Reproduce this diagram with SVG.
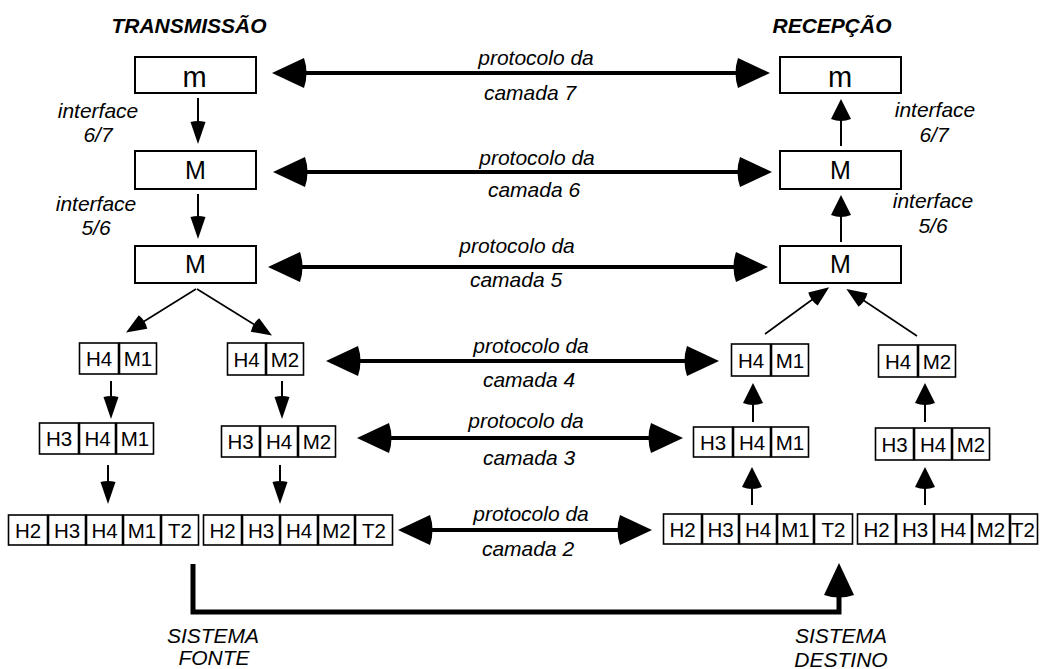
<svg xmlns="http://www.w3.org/2000/svg" width="1040" height="669" viewBox="0 0 1040 669">
  <style>
    .bg { fill: #ffffff; }
    .box { fill: #ffffff; stroke: #000000; stroke-width: 2; }
    .cell { fill: #ffffff; stroke: #000000; stroke-width: 1.6; }
    .t { font-family: "Liberation Sans", Arial, sans-serif; fill: #000000; text-anchor: middle; }
    .big { font-size: 25px; }
    .small-m { font-size: 29px; }
    .cellt { font-size: 20.5px; }
    .it { font-size: 21px; font-style: italic; }
    .head { font-size: 21px; font-style: italic; font-weight: bold; }
    .proto { fill: none; stroke: #000000; stroke-width: 4; marker-start: url(#hBig); marker-end: url(#hBig); }
    .down { fill: none; stroke: #000000; stroke-width: 2; marker-end: url(#hDown); }
    .up { fill: none; stroke: #000000; stroke-width: 2; marker-end: url(#hUp); }
    .diag { fill: none; stroke: #000000; stroke-width: 1.6; marker-end: url(#hMid); }
    .sys { fill: none; stroke: #000000; stroke-width: 5; marker-end: url(#hBig); }
  </style>
  <defs>
    <!-- arrowheads: back edge sits on the line end, tip extends forward -->
    <marker id="hBig" markerUnits="userSpaceOnUse" orient="auto-start-reverse" refX="0" refY="0" markerWidth="40" markerHeight="40" overflow="visible">
      <path d="M0,-15 Q-5,0 0,15 L32,0 Z" fill="#000000"/>
    </marker>
    <marker id="hDown" markerUnits="userSpaceOnUse" orient="auto" refX="0" refY="0" markerWidth="30" markerHeight="30" overflow="visible">
      <path d="M0,-7.5 Q-2,0 0,7.5 L22,0 Z" fill="#000000"/>
    </marker>
    <marker id="hUp" markerUnits="userSpaceOnUse" orient="auto" refX="0" refY="0" markerWidth="30" markerHeight="30" overflow="visible">
      <path d="M0,-10 Q-4,0 0,10 L20,0 Z" fill="#000000"/>
    </marker>
    <marker id="hMid" markerUnits="userSpaceOnUse" orient="auto" refX="0" refY="0" markerWidth="30" markerHeight="30" overflow="visible">
      <path d="M0,-8 Q-3,0 0,8 L20,0 Z" fill="#000000"/>
    </marker>
  </defs>

  <rect class="bg" x="0" y="0" width="1040" height="669"/>

  <!-- column headings -->
  <text class="t head" x="189" y="33">TRANSMISSÃO</text>
  <text class="t head" x="832" y="33">RECEPÇÃO</text>

  <!-- sending side, layers 7..5 -->
  <g id="tx-l7"><rect class="box" x="135" y="57" width="121" height="36"/><text class="t small-m" x="194.5" y="87">m</text></g>
  <g id="tx-l6"><rect class="box" x="135" y="151" width="121" height="38"/><text class="t big" x="195.5" y="179">M</text></g>
  <g id="tx-l5"><rect class="box" x="135" y="246" width="121" height="37"/><text class="t big" x="195.5" y="273">M</text></g>

  <!-- receiving side, layers 7..5 -->
  <g id="rx-l7"><rect class="box" x="780" y="57" width="121" height="36"/><text class="t small-m" x="840" y="87">m</text></g>
  <g id="rx-l6"><rect class="box" x="780" y="151" width="121" height="38"/><text class="t big" x="840.5" y="179">M</text></g>
  <g id="rx-l5"><rect class="box" x="780" y="246" width="121" height="37"/><text class="t big" x="840.5" y="273">M</text></g>

  <!-- interface labels -->
  <g id="if-tx">
    <text class="t it" x="98" y="118">interface</text>
    <text class="t it" x="98" y="142">6/7</text>
    <text class="t it" x="96" y="211">interface</text>
    <text class="t it" x="96" y="235">5/6</text>
  </g>
  <g id="if-rx">
    <text class="t it" x="935" y="117">interface</text>
    <text class="t it" x="934" y="142">6/7</text>
    <text class="t it" x="933" y="208">interface</text>
    <text class="t it" x="933" y="233">5/6</text>
  </g>

  <!-- sending side, layer 4 -->
  <g id="tx-l4a">
    <rect class="cell" x="79.5" y="343" width="39" height="31"/><text class="t cellt" x="99" y="366">H4</text>
    <rect class="cell" x="119.5" y="343" width="37" height="31"/><text class="t cellt" x="138" y="366">M1</text>
  </g>
  <g id="tx-l4b">
    <rect class="cell" x="227.5" y="343" width="38" height="32"/><text class="t cellt" x="246.5" y="367">H4</text>
    <rect class="cell" x="266.5" y="343" width="37" height="32"/><text class="t cellt" x="285" y="367">M2</text>
  </g>

  <!-- sending side, layer 3 -->
  <g id="tx-l3a">
    <rect class="cell" x="39.5" y="423" width="39" height="31"/><text class="t cellt" x="59" y="446">H3</text>
    <rect class="cell" x="79.5" y="423" width="36" height="31"/><text class="t cellt" x="97.5" y="446">H4</text>
    <rect class="cell" x="116.5" y="423" width="37" height="31"/><text class="t cellt" x="135" y="446">M1</text>
  </g>
  <g id="tx-l3b">
    <rect class="cell" x="221.5" y="426" width="38" height="31"/><text class="t cellt" x="240.5" y="449">H3</text>
    <rect class="cell" x="260.5" y="426" width="37" height="31"/><text class="t cellt" x="279" y="449">H4</text>
    <rect class="cell" x="298.5" y="426" width="37" height="31"/><text class="t cellt" x="317" y="449">M2</text>
  </g>

  <!-- sending side, layer 2 -->
  <g id="tx-l2a">
    <rect class="cell" x="8.5" y="515" width="39" height="30"/><text class="t cellt" x="28" y="538">H2</text>
    <rect class="cell" x="48.5" y="515" width="37" height="30"/><text class="t cellt" x="67" y="538">H3</text>
    <rect class="cell" x="86.5" y="515" width="36" height="30"/><text class="t cellt" x="104.5" y="538">H4</text>
    <rect class="cell" x="123.5" y="515" width="37" height="30"/><text class="t cellt" x="142" y="538">M1</text>
    <rect class="cell" x="161.5" y="515" width="37" height="30"/><text class="t cellt" x="180" y="538">T2</text>
  </g>
  <g id="tx-l2b">
    <rect class="cell" x="203.5" y="515" width="38" height="30"/><text class="t cellt" x="222.5" y="538">H2</text>
    <rect class="cell" x="242.5" y="515" width="37" height="30"/><text class="t cellt" x="261" y="538">H3</text>
    <rect class="cell" x="280.5" y="515" width="37" height="30"/><text class="t cellt" x="299" y="538">H4</text>
    <rect class="cell" x="318.5" y="515" width="36" height="30"/><text class="t cellt" x="336.5" y="538">M2</text>
    <rect class="cell" x="355.5" y="515" width="37" height="30"/><text class="t cellt" x="374" y="538">T2</text>
  </g>

  <!-- receiving side, layer 4 -->
  <g id="rx-l4a">
    <rect class="cell" x="731.5" y="344" width="39" height="32"/><text class="t cellt" x="751" y="368">H4</text>
    <rect class="cell" x="771.5" y="344" width="37" height="32"/><text class="t cellt" x="790" y="368">M1</text>
  </g>
  <g id="rx-l4b">
    <rect class="cell" x="878.5" y="345" width="39" height="32"/><text class="t cellt" x="898" y="369">H4</text>
    <rect class="cell" x="918.5" y="345" width="37" height="32"/><text class="t cellt" x="937" y="369">M2</text>
  </g>

  <!-- receiving side, layer 3 -->
  <g id="rx-l3a">
    <rect class="cell" x="693.5" y="427" width="39" height="30"/><text class="t cellt" x="713" y="450">H3</text>
    <rect class="cell" x="733.5" y="427" width="37" height="30"/><text class="t cellt" x="752" y="450">H4</text>
    <rect class="cell" x="771.5" y="427" width="37" height="30"/><text class="t cellt" x="790" y="450">M1</text>
  </g>
  <g id="rx-l3b">
    <rect class="cell" x="875.5" y="428" width="38" height="32"/><text class="t cellt" x="894.5" y="452">H3</text>
    <rect class="cell" x="914.5" y="428" width="37" height="32"/><text class="t cellt" x="933" y="452">H4</text>
    <rect class="cell" x="952.5" y="428" width="37" height="32"/><text class="t cellt" x="971" y="452">M2</text>
  </g>

  <!-- receiving side, layer 2 -->
  <g id="rx-l2a">
    <rect class="cell" x="663.5" y="514" width="38" height="30"/><text class="t cellt" x="682.5" y="537">H2</text>
    <rect class="cell" x="702.5" y="514" width="36" height="30"/><text class="t cellt" x="720.5" y="537">H3</text>
    <rect class="cell" x="739.5" y="514" width="37" height="30"/><text class="t cellt" x="758" y="537">H4</text>
    <rect class="cell" x="777.5" y="514" width="36" height="30"/><text class="t cellt" x="795.5" y="537">M1</text>
    <rect class="cell" x="814.5" y="514" width="38" height="30"/><text class="t cellt" x="833.5" y="537">T2</text>
  </g>
  <g id="rx-l2b">
    <rect class="cell" x="857.5" y="514" width="38" height="30"/><text class="t cellt" x="876.5" y="537">H2</text>
    <rect class="cell" x="896.5" y="514" width="37" height="30"/><text class="t cellt" x="915" y="537">H3</text>
    <rect class="cell" x="934.5" y="514" width="37" height="30"/><text class="t cellt" x="953" y="537">H4</text>
    <rect class="cell" x="972.5" y="514" width="37" height="30"/><text class="t cellt" x="991" y="537">M2</text>
    <rect class="cell" x="1010.5" y="514" width="27" height="30"/><text class="t cellt" x="1023" y="537">T2</text>
  </g>

  <!-- peer protocol labels -->
  <g id="proto-labels">
    <text class="t it" x="536" y="65">protocolo da</text>
    <text class="t it" x="530" y="100">camada 7</text>
    <text class="t it" x="537" y="165">protocolo da</text>
    <text class="t it" x="534" y="197">camada 6</text>
    <text class="t it" x="517" y="253">protocolo da</text>
    <text class="t it" x="516" y="287">camada 5</text>
    <text class="t it" x="531" y="353">protocolo da</text>
    <text class="t it" x="529" y="387">camada 4</text>
    <text class="t it" x="526" y="428">protocolo da</text>
    <text class="t it" x="529" y="465">camada 3</text>
    <text class="t it" x="531" y="521">protocolo da</text>
    <text class="t it" x="528" y="556">camada 2</text>
  </g>

  <!-- end system labels -->
  <g id="src-label">
    <text class="t it" x="213" y="643">SISTEMA</text>
    <text class="t it" x="214" y="665">FONTE</text>
  </g>
  <g id="dst-label">
    <text class="t it" x="841" y="643">SISTEMA</text>
    <text class="t it" x="841" y="667">DESTINO</text>
  </g>

  <g id="connectors">
    <!-- peer protocols (double headed) -->
    <line class="proto" x1="304" y1="73" x2="738" y2="73"/>
    <line class="proto" x1="305" y1="172" x2="740" y2="172"/>
    <line class="proto" x1="300" y1="267" x2="736" y2="267"/>
    <line class="proto" x1="358" y1="361" x2="687" y2="361"/>
    <line class="proto" x1="389" y1="438" x2="651" y2="438"/>
    <line class="proto" x1="430" y1="530" x2="620" y2="530"/>

    <!-- sending side: downward passing -->
    <line class="down" x1="198" y1="98" x2="198" y2="122"/>
    <line class="down" x1="198" y1="194" x2="198" y2="217"/>
    <line class="diag" x1="196" y1="289" x2="143" y2="322"/>
    <line class="diag" x1="197" y1="289" x2="255" y2="325"/>
    <line class="down" x1="111" y1="381" x2="111" y2="397"/>
    <line class="down" x1="282" y1="381" x2="282" y2="397"/>
    <line class="down" x1="108" y1="465" x2="108" y2="482"/>
    <line class="down" x1="280" y1="465" x2="280" y2="482"/>

    <!-- receiving side: upward passing -->
    <line class="up" x1="841" y1="146" x2="841" y2="119"/>
    <line class="up" x1="841" y1="242" x2="841" y2="215"/>
    <line class="diag" x1="765" y1="334" x2="813" y2="299"/>
    <line class="diag" x1="917" y1="336" x2="863" y2="300"/>
    <line class="up" x1="753" y1="422" x2="753" y2="403"/>
    <line class="up" x1="752" y1="505" x2="752" y2="487"/>
    <line class="up" x1="925" y1="422" x2="925" y2="403"/>
    <line class="up" x1="925" y1="505" x2="925" y2="487"/>

    <!-- physical path between the two systems -->
    <path class="sys" d="M193,564 V612 H839 V595"/>
  </g>
</svg>
